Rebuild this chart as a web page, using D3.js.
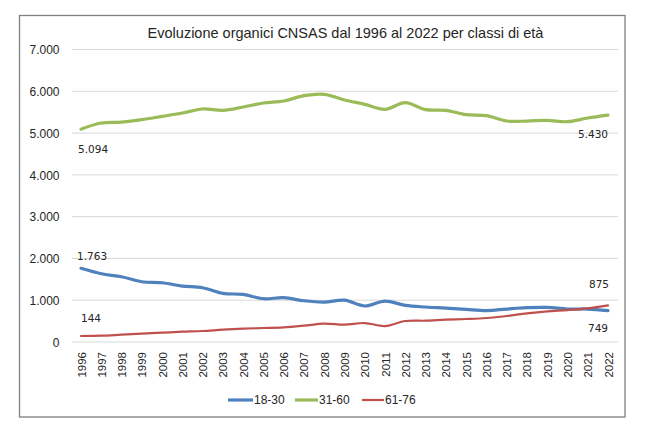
<!DOCTYPE html>
<html>
<head>
<meta charset="utf-8">
<script src="https://cdn.jsdelivr.net/npm/d3@7"></script>
<style>
  html, body { margin: 0; padding: 0; background: #fff; }
  svg { display: block; }
</style>
</head>
<body>
<svg id="chart" width="650" height="434"></svg>
<script>
const years = [1996,1997,1998,1999,2000,2001,2002,2003,2004,2005,2006,2007,2008,2009,2010,2011,2012,2013,2014,2015,2016,2017,2018,2019,2020,2021,2022];
const s18_30 = [1763,1633,1562,1442,1418,1339,1299,1163,1139,1036,1060,988,956,1000,861,980,876,837,813,781,752,789,821,829,789,789,749];
const s31_60 = [5094,5240,5264,5320,5400,5480,5576,5544,5624,5720,5768,5896,5928,5792,5688,5568,5728,5560,5544,5440,5416,5288,5288,5304,5272,5360,5430];
const s61_76 = [144,151,175,199,223,247,263,295,319,335,351,390,438,414,454,382,502,510,534,550,574,622,685,733,765,805,875];
const seriesNames = ["18-30","31-60","61-76"];
const yTicks = [0,1000,2000,3000,4000,5000,6000,7000];
const title = "Evoluzione organici CNSAS dal 1996 al 2022 per classi di età";

const colors = {"18-30":"#4F81BD","31-60":"#9BBB59","61-76":"#C0504D"};
const widths = {"18-30":3.2,"31-60":3.2,"61-76":2.2};
const seriesData = {"18-30":s18_30,"31-60":s31_60,"61-76":s61_76};

const svg = d3.select("#chart");
const fmt = d => d3.format(",")(d).replace(/,/g, ".");

// frame
svg.append("rect").attr("x",19.5).attr("y",15.5).attr("width",605.5).attr("height",401.5)
  .attr("fill","#fff").attr("stroke","#7f7f7f").attr("stroke-width",1.3);

const x = d3.scalePoint().domain(years).range([81, 608]);
const y = d3.scaleLinear().domain([0,7000]).range([342, 49.5]);
const gridX0 = 72, gridX1 = 618;

// gridlines
svg.append("g").selectAll("line").data(yTicks).join("line")
  .attr("x1",gridX0).attr("x2",gridX1)
  .attr("y1",d=>y(d)).attr("y2",d=>y(d))
  .attr("stroke","#d9d9d9").attr("stroke-width",1);

// y axis labels
const yAxis = d3.axisLeft(y).tickValues(yTicks).tickSize(0).tickPadding(0).tickFormat(fmt);
const gy = svg.append("g").attr("transform","translate(59.5,0)").call(yAxis);
gy.select(".domain").remove();
gy.selectAll("text").attr("font-family","Liberation Sans, Arial, sans-serif")
  .attr("font-size","12px").attr("fill","#262626").attr("dy","0.35em");

// x axis labels
const xAxis = d3.axisBottom(x).tickSize(0).tickPadding(0);
const gx = svg.append("g").attr("transform","translate(0,352)").call(xAxis);
gx.select(".domain").remove();
gx.selectAll("text").attr("font-family","Liberation Sans, Arial, sans-serif")
  .attr("font-size","11.5px").attr("fill","#262626")
  .attr("transform","rotate(-90)").attr("text-anchor","end")
  .attr("x",0).attr("y",0).attr("dy","0.35em");

// lines
const line = d3.line().x((d,i)=>x(years[i])).y(d=>y(d)).curve(d3.curveCatmullRom.alpha(0.5));
seriesNames.forEach(n => {
  svg.append("path").datum(seriesData[n]).attr("d",line)
    .attr("fill","none").attr("stroke",colors[n]).attr("stroke-width",widths[n])
    .attr("stroke-linejoin","round").attr("stroke-linecap","round");
});

// data labels
const lblFont = "DejaVu Sans, Verdana, sans-serif";
const labels = [
  {txt: fmt(s31_60[0]), x: x(years[0]) - 3, y: y(s31_60[0]) + 24, anchor: "start"},
  {txt: fmt(s31_60[s31_60.length-1]), x: x(years[years.length-1]), y: y(s31_60[s31_60.length-1]) + 23, anchor: "end"},
  {txt: fmt(s18_30[0]), x: x(years[0]) - 4, y: y(s18_30[0]) - 8, anchor: "start"},
  {txt: fmt(s61_76[0]), x: x(years[0]), y: y(s61_76[0]) - 14, anchor: "start"},
  {txt: fmt(s61_76[s61_76.length-1]), x: x(years[years.length-1]) + 1, y: y(s61_76[s61_76.length-1]) - 17, anchor: "end"},
  {txt: fmt(s18_30[s18_30.length-1]), x: x(years[years.length-1]), y: y(s18_30[s18_30.length-1]) + 21, anchor: "end"}
];
svg.append("g").selectAll("text").data(labels).join("text")
  .attr("x",d=>d.x).attr("y",d=>d.y).attr("text-anchor",d=>d.anchor)
  .attr("font-family",lblFont).attr("font-size","10.5px").attr("fill","#262626")
  .text(d=>d.txt);

// title
svg.append("text").attr("x",345.5).attr("y",38.3).attr("text-anchor","middle")
  .attr("font-family","Liberation Sans, Arial, sans-serif").attr("font-size","14.5px")
  .attr("fill","#262626").text(title);

// legend
const legendItems = [
  {name:"18-30", x0:228, x1:253},
  {name:"31-60", x0:295, x1:318},
  {name:"61-76", x0:362, x1:384}
];
const lg = svg.append("g");
legendItems.forEach(it => {
  lg.append("line").attr("x1",it.x0).attr("x2",it.x1).attr("y1",400).attr("y2",400)
    .attr("stroke",colors[it.name]).attr("stroke-width",widths[it.name]);
  lg.append("text").attr("x",it.x1+1).attr("y",400).attr("dy","0.35em")
    .attr("font-family","Liberation Sans, Arial, sans-serif").attr("font-size","12px")
    .attr("fill","#262626").text(it.name);
});
</script>
</body>
</html>
